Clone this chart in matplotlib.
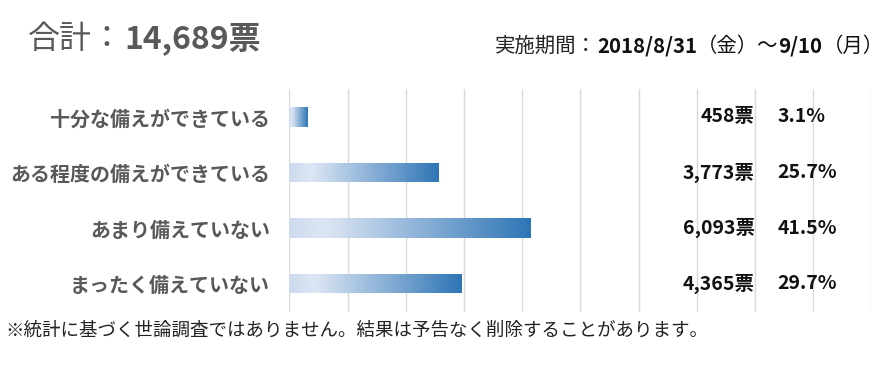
import matplotlib
matplotlib.use("Agg")
import matplotlib.pyplot as plt
import numpy as np
from matplotlib.colors import LinearSegmentedColormap

plt.rcParams['font.family'] = ['Noto Sans CJK JP', 'DejaVu Sans']

categories = ["十分な備えができている", "ある程度の備えができている", "あまり備えていない", "まったく備えていない"]
votes = [458, 3773, 6093, 4365]
pcts = [3.1, 25.7, 41.5, 29.7]
total_label = "14,689票"
xticks = [0, 10, 20, 30, 40, 50, 60, 70, 80, 90, 100]

W, H = 889, 365
fig = plt.figure(figsize=(W / 100, H / 100), dpi=100)
ax = fig.add_axes([289.3 / W, 1 - 311.5 / H, 582 / W, 222.3 / H])

cmap = LinearSegmentedColormap.from_list(
    "grad", [(0.0, "#cddaee"), (0.15, "#dde6f4"), (1.0, "#2e75b6")])
grad = np.linspace(0, 1, 256).reshape(1, -1)

y = np.arange(len(categories))
bars = ax.barh(y, pcts, height=0.35, color="none", edgecolor="none", zorder=2)
for b in bars:
    x0, y0 = b.get_x(), b.get_y()
    w, h = b.get_width(), b.get_height()
    im = ax.imshow(grad, cmap=cmap, aspect="auto", extent=[x0, x0 + w, y0 + h, y0],
                   zorder=2, interpolation="bicubic")
    im.set_clip_path(b)

ax.set_xlim(0, 100)
ax.set_ylim(3.5, -0.5)
ax.set_xticks(xticks)
ax.xaxis.grid(True, color="#d9d9d9", linewidth=1.0, zorder=0)
ax.set_axisbelow(True)
ax.tick_params(axis="x", length=0, labelbottom=False)
ax.set_yticks(y)
ax.set_yticklabels(categories, fontsize=14.4, fontweight="bold", color="#595959")
ax.tick_params(axis="y", length=0, pad=14)
for s in ax.spines.values():
    s.set_visible(False)

for i, (v, p) in enumerate(zip(votes, pcts)):
    ax.text(80, i, f"{v:,}票", ha="right", va="center", fontsize=14,
            fontweight="bold", color="#111111")
    ax.text(83.9, i, f"{p}%", ha="left", va="center", fontsize=14,
            fontweight="bold", color="#111111")

# Title
t1 = fig.text(28 / W, 1 - 48 / H, "合計：", fontsize=23, color="#595959",
              ha="left", va="baseline")
ann = ax.annotate(total_label, xy=(1, 0), xycoords=t1, xytext=(0, 0),
                  textcoords="offset points", fontsize=23, fontweight="bold",
                  color="#595959", ha="left", va="bottom", annotation_clip=False)

# Period (fit between x=495 and x=885)
pieces = [("実施期間：", "normal"), ("2018/8/31", "bold"), ("（金）～", "normal"),
          ("9/10", "bold"), ("（月）", "normal")]
x_start, x_end = 495, 885


def draw_period(fs):
    objs = []
    prev = fig.text(x_start / W, 1 - 52 / H, pieces[0][0], fontsize=fs, color="#222222",
                    ha="left", va="baseline")
    objs.append(prev)
    for txt, wt in pieces[1:]:
        prev = ax.annotate(txt, xy=(1, 0), xycoords=prev, fontsize=fs, fontweight=wt,
                           color="#111111", ha="left", va="bottom", annotation_clip=False)
        objs.append(prev)
    return objs


objs = draw_period(15)
fig.canvas.draw()
r = fig.canvas.get_renderer()
right = objs[-1].get_window_extent(r).x1
fs = 15 * (x_end - x_start) / (right - x_start)
for o in objs:
    o.remove()
draw_period(fs)

fig.text(5 / W, 1 - 331 / H,
         "※統計に基づく世論調査ではありません。結果は予告なく削除することがあります。",
         fontsize=13.3, color="#222222", ha="left", va="center")

fig.savefig("out.png", dpi=100, facecolor="white")
